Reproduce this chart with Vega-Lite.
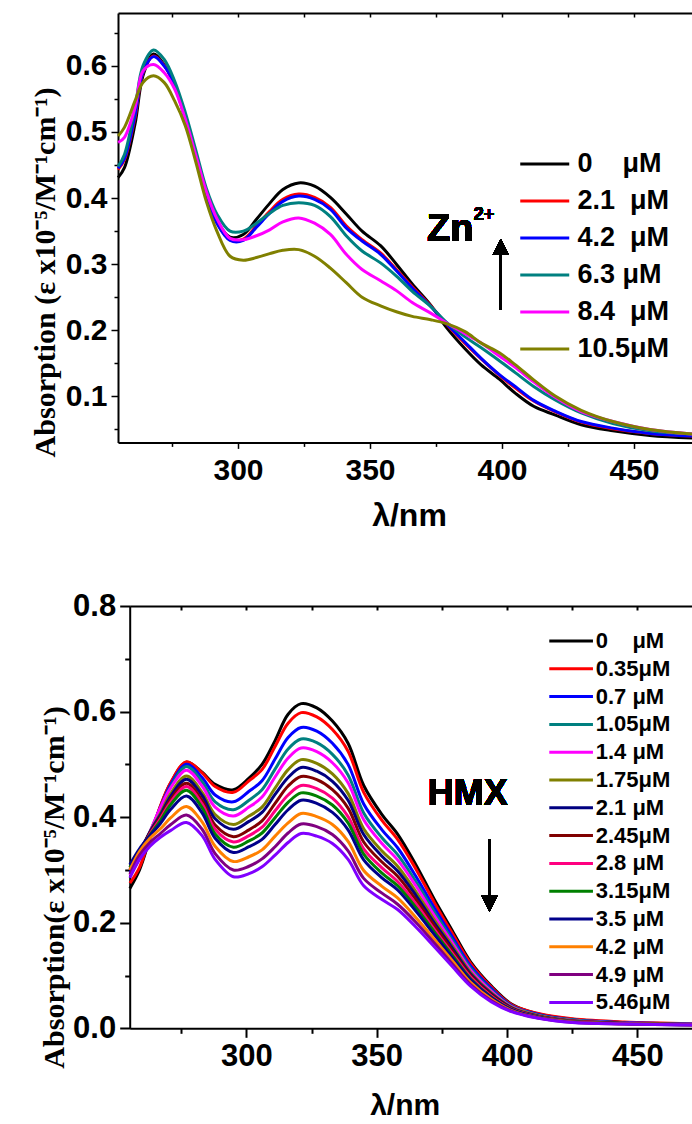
{
"$schema": "https://vega.github.io/schema/vega-lite/v6.json",
"background": "white",
"padding": {"left": 30, "top": 12, "right": 0, "bottom": 0},
"spacing": 58,
"config": {
  "view": {"stroke": null},
  "axis": {"grid": false, "domainColor": "black", "domainWidth": 2, "tickColor": "black", "tickWidth": 1.5, "labelColor": "black", "titleColor": "black", "labelFont": "Liberation Sans", "labelFontWeight": "bold", "titleFont": "Liberation Sans", "titleFontWeight": "bold", "labelFlush": false, "labelOverlap": false}
},
"datasets": {
"zn": [
{"k":"0","w":254.6,"a":0.431},{"k":"0","w":257,"a":0.446},{"k":"0","w":261,"a":0.512},{"k":"0","w":264,"a":0.585},{"k":"0","w":268,"a":0.618},{"k":"0","w":272,"a":0.602},{"k":"0","w":276,"a":0.57},{"k":"0","w":280,"a":0.52},{"k":"0","w":284,"a":0.462},{"k":"0","w":288,"a":0.405},{"k":"0","w":292,"a":0.366},{"k":"0","w":297,"a":0.341},{"k":"0","w":302,"a":0.345},{"k":"0","w":307,"a":0.368},{"k":"0","w":312,"a":0.392},{"k":"0","w":317,"a":0.413},{"k":"0","w":323,"a":0.423},{"k":"0","w":329,"a":0.418},{"k":"0","w":335,"a":0.401},{"k":"0","w":341,"a":0.376},{"k":"0","w":347,"a":0.35},{"k":"0","w":354,"a":0.328},{"k":"0","w":360,"a":0.3},{"k":"0","w":366,"a":0.27},{"k":"0","w":373,"a":0.238},{"k":"0","w":379,"a":0.204},{"k":"0","w":386,"a":0.172},{"k":"0","w":392,"a":0.148},{"k":"0","w":399,"a":0.126},{"k":"0","w":405,"a":0.105},{"k":"0","w":412,"a":0.085},{"k":"0","w":420,"a":0.072},{"k":"0","w":430,"a":0.057},{"k":"0","w":442,"a":0.048},{"k":"0","w":456,"a":0.041},{"k":"0","w":472.3,"a":0.037},
{"k":"2.1","w":254.6,"a":0.443},{"k":"2.1","w":257,"a":0.458},{"k":"2.1","w":261,"a":0.522},{"k":"2.1","w":264,"a":0.589},{"k":"2.1","w":268,"a":0.615},{"k":"2.1","w":272,"a":0.601},{"k":"2.1","w":276,"a":0.572},{"k":"2.1","w":280,"a":0.522},{"k":"2.1","w":284,"a":0.465},{"k":"2.1","w":288,"a":0.405},{"k":"2.1","w":292,"a":0.363},{"k":"2.1","w":297,"a":0.337},{"k":"2.1","w":302,"a":0.338},{"k":"2.1","w":307,"a":0.358},{"k":"2.1","w":312,"a":0.38},{"k":"2.1","w":317,"a":0.398},{"k":"2.1","w":323,"a":0.406},{"k":"2.1","w":329,"a":0.401},{"k":"2.1","w":335,"a":0.386},{"k":"2.1","w":341,"a":0.358},{"k":"2.1","w":347,"a":0.337},{"k":"2.1","w":354,"a":0.317},{"k":"2.1","w":360,"a":0.292},{"k":"2.1","w":366,"a":0.266},{"k":"2.1","w":373,"a":0.237},{"k":"2.1","w":379,"a":0.209},{"k":"2.1","w":386,"a":0.18},{"k":"2.1","w":392,"a":0.157},{"k":"2.1","w":399,"a":0.132},{"k":"2.1","w":405,"a":0.113},{"k":"2.1","w":412,"a":0.093},{"k":"2.1","w":420,"a":0.077},{"k":"2.1","w":430,"a":0.061},{"k":"2.1","w":442,"a":0.051},{"k":"2.1","w":456,"a":0.044},{"k":"2.1","w":472.3,"a":0.04},
{"k":"4.2","w":254.6,"a":0.445},{"k":"4.2","w":257,"a":0.46},{"k":"4.2","w":261,"a":0.525},{"k":"4.2","w":264,"a":0.59},{"k":"4.2","w":268,"a":0.614},{"k":"4.2","w":272,"a":0.6},{"k":"4.2","w":276,"a":0.572},{"k":"4.2","w":280,"a":0.522},{"k":"4.2","w":284,"a":0.465},{"k":"4.2","w":288,"a":0.405},{"k":"4.2","w":292,"a":0.362},{"k":"4.2","w":297,"a":0.336},{"k":"4.2","w":302,"a":0.336},{"k":"4.2","w":307,"a":0.356},{"k":"4.2","w":312,"a":0.377},{"k":"4.2","w":317,"a":0.395},{"k":"4.2","w":323,"a":0.403},{"k":"4.2","w":329,"a":0.398},{"k":"4.2","w":335,"a":0.383},{"k":"4.2","w":341,"a":0.355},{"k":"4.2","w":347,"a":0.335},{"k":"4.2","w":354,"a":0.315},{"k":"4.2","w":360,"a":0.29},{"k":"4.2","w":366,"a":0.264},{"k":"4.2","w":373,"a":0.236},{"k":"4.2","w":379,"a":0.21},{"k":"4.2","w":386,"a":0.182},{"k":"4.2","w":392,"a":0.158},{"k":"4.2","w":399,"a":0.133},{"k":"4.2","w":405,"a":0.115},{"k":"4.2","w":412,"a":0.094},{"k":"4.2","w":420,"a":0.078},{"k":"4.2","w":430,"a":0.062},{"k":"4.2","w":442,"a":0.052},{"k":"4.2","w":456,"a":0.044},{"k":"4.2","w":472.3,"a":0.04},
{"k":"6.3","w":254.6,"a":0.448},{"k":"6.3","w":257,"a":0.466},{"k":"6.3","w":261,"a":0.537},{"k":"6.3","w":264,"a":0.6},{"k":"6.3","w":268,"a":0.624},{"k":"6.3","w":272,"a":0.61},{"k":"6.3","w":276,"a":0.577},{"k":"6.3","w":280,"a":0.53},{"k":"6.3","w":284,"a":0.473},{"k":"6.3","w":288,"a":0.415},{"k":"6.3","w":292,"a":0.376},{"k":"6.3","w":297,"a":0.35},{"k":"6.3","w":302,"a":0.35},{"k":"6.3","w":307,"a":0.362},{"k":"6.3","w":312,"a":0.377},{"k":"6.3","w":317,"a":0.389},{"k":"6.3","w":323,"a":0.393},{"k":"6.3","w":329,"a":0.389},{"k":"6.3","w":335,"a":0.372},{"k":"6.3","w":341,"a":0.343},{"k":"6.3","w":347,"a":0.32},{"k":"6.3","w":354,"a":0.302},{"k":"6.3","w":360,"a":0.282},{"k":"6.3","w":366,"a":0.259},{"k":"6.3","w":373,"a":0.236},{"k":"6.3","w":379,"a":0.212},{"k":"6.3","w":386,"a":0.19},{"k":"6.3","w":392,"a":0.174},{"k":"6.3","w":399,"a":0.154},{"k":"6.3","w":405,"a":0.136},{"k":"6.3","w":412,"a":0.115},{"k":"6.3","w":420,"a":0.095},{"k":"6.3","w":430,"a":0.075},{"k":"6.3","w":442,"a":0.059},{"k":"6.3","w":456,"a":0.048},{"k":"6.3","w":472.3,"a":0.043},
{"k":"8.4","w":254.6,"a":0.484},{"k":"8.4","w":257,"a":0.492},{"k":"8.4","w":261,"a":0.537},{"k":"8.4","w":264,"a":0.592},{"k":"8.4","w":268,"a":0.602},{"k":"8.4","w":272,"a":0.59},{"k":"8.4","w":276,"a":0.565},{"k":"8.4","w":280,"a":0.52},{"k":"8.4","w":284,"a":0.465},{"k":"8.4","w":288,"a":0.41},{"k":"8.4","w":292,"a":0.369},{"k":"8.4","w":297,"a":0.339},{"k":"8.4","w":302,"a":0.337},{"k":"8.4","w":307,"a":0.343},{"k":"8.4","w":312,"a":0.352},{"k":"8.4","w":317,"a":0.364},{"k":"8.4","w":323,"a":0.37},{"k":"8.4","w":329,"a":0.362},{"k":"8.4","w":335,"a":0.345},{"k":"8.4","w":341,"a":0.315},{"k":"8.4","w":347,"a":0.292},{"k":"8.4","w":354,"a":0.275},{"k":"8.4","w":360,"a":0.26},{"k":"8.4","w":366,"a":0.242},{"k":"8.4","w":373,"a":0.226},{"k":"8.4","w":379,"a":0.211},{"k":"8.4","w":386,"a":0.195},{"k":"8.4","w":392,"a":0.181},{"k":"8.4","w":399,"a":0.161},{"k":"8.4","w":405,"a":0.144},{"k":"8.4","w":412,"a":0.122},{"k":"8.4","w":420,"a":0.099},{"k":"8.4","w":430,"a":0.077},{"k":"8.4","w":442,"a":0.062},{"k":"8.4","w":456,"a":0.05},{"k":"8.4","w":472.3,"a":0.043},
{"k":"10.5","w":254.6,"a":0.494},{"k":"10.5","w":257,"a":0.507},{"k":"10.5","w":261,"a":0.547},{"k":"10.5","w":264,"a":0.575},{"k":"10.5","w":268,"a":0.585},{"k":"10.5","w":272,"a":0.575},{"k":"10.5","w":276,"a":0.547},{"k":"10.5","w":280,"a":0.51},{"k":"10.5","w":284,"a":0.455},{"k":"10.5","w":288,"a":0.395},{"k":"10.5","w":292,"a":0.35},{"k":"10.5","w":297,"a":0.312},{"k":"10.5","w":302,"a":0.306},{"k":"10.5","w":307,"a":0.31},{"k":"10.5","w":312,"a":0.316},{"k":"10.5","w":317,"a":0.321},{"k":"10.5","w":323,"a":0.322},{"k":"10.5","w":329,"a":0.312},{"k":"10.5","w":335,"a":0.294},{"k":"10.5","w":341,"a":0.272},{"k":"10.5","w":347,"a":0.25},{"k":"10.5","w":354,"a":0.237},{"k":"10.5","w":360,"a":0.228},{"k":"10.5","w":366,"a":0.221},{"k":"10.5","w":373,"a":0.216},{"k":"10.5","w":379,"a":0.21},{"k":"10.5","w":386,"a":0.198},{"k":"10.5","w":392,"a":0.181},{"k":"10.5","w":399,"a":0.166},{"k":"10.5","w":405,"a":0.148},{"k":"10.5","w":412,"a":0.125},{"k":"10.5","w":420,"a":0.101},{"k":"10.5","w":430,"a":0.079},{"k":"10.5","w":442,"a":0.062},{"k":"10.5","w":456,"a":0.05},{"k":"10.5","w":472.3,"a":0.043}
],
"hmx": [
{"k":"0","w":255.3,"a":0.265},{"k":"0","w":259,"a":0.3},{"k":"0","w":263,"a":0.36},{"k":"0","w":267,"a":0.42},{"k":"0","w":271,"a":0.465},{"k":"0","w":277,"a":0.504},{"k":"0","w":283,"a":0.485},{"k":"0","w":288,"a":0.462},{"k":"0","w":295,"a":0.452},{"k":"0","w":301,"a":0.474},{"k":"0","w":306,"a":0.5},{"k":"0","w":311,"a":0.545},{"k":"0","w":316,"a":0.595},{"k":"0","w":321,"a":0.615},{"k":"0","w":327,"a":0.607},{"k":"0","w":333,"a":0.582},{"k":"0","w":339,"a":0.54},{"k":"0","w":345,"a":0.46},{"k":"0","w":352,"a":0.405},{"k":"0","w":358,"a":0.368},{"k":"0","w":365,"a":0.31},{"k":"0","w":372,"a":0.245},{"k":"0","w":379,"a":0.185},{"k":"0","w":386,"a":0.126},{"k":"0","w":394,"a":0.08},{"k":"0","w":402,"a":0.045},{"k":"0","w":412,"a":0.027},{"k":"0","w":425,"a":0.017},{"k":"0","w":445,"a":0.011},{"k":"0","w":471.3,"a":0.008},
{"k":"0.35","w":255.3,"a":0.275},{"k":"0.35","w":259,"a":0.305},{"k":"0.35","w":263,"a":0.362},{"k":"0.35","w":267,"a":0.421},{"k":"0.35","w":271,"a":0.466},{"k":"0.35","w":277,"a":0.505},{"k":"0.35","w":283,"a":0.484},{"k":"0.35","w":288,"a":0.458},{"k":"0.35","w":295,"a":0.447},{"k":"0.35","w":301,"a":0.469},{"k":"0.35","w":306,"a":0.49},{"k":"0.35","w":311,"a":0.534},{"k":"0.35","w":316,"a":0.578},{"k":"0.35","w":321,"a":0.598},{"k":"0.35","w":327,"a":0.59},{"k":"0.35","w":333,"a":0.566},{"k":"0.35","w":339,"a":0.525},{"k":"0.35","w":345,"a":0.447},{"k":"0.35","w":352,"a":0.394},{"k":"0.35","w":358,"a":0.358},{"k":"0.35","w":365,"a":0.302},{"k":"0.35","w":372,"a":0.239},{"k":"0.35","w":379,"a":0.18},{"k":"0.35","w":386,"a":0.123},{"k":"0.35","w":394,"a":0.078},{"k":"0.35","w":402,"a":0.044},{"k":"0.35","w":412,"a":0.028},{"k":"0.35","w":425,"a":0.018},{"k":"0.35","w":445,"a":0.012},{"k":"0.35","w":471.3,"a":0.009},
{"k":"0.7","w":255.3,"a":0.295},{"k":"0.7","w":259,"a":0.325},{"k":"0.7","w":263,"a":0.37},{"k":"0.7","w":267,"a":0.418},{"k":"0.7","w":271,"a":0.462},{"k":"0.7","w":277,"a":0.5},{"k":"0.7","w":283,"a":0.475},{"k":"0.7","w":288,"a":0.442},{"k":"0.7","w":295,"a":0.429},{"k":"0.7","w":301,"a":0.449},{"k":"0.7","w":306,"a":0.469},{"k":"0.7","w":311,"a":0.51},{"k":"0.7","w":316,"a":0.551},{"k":"0.7","w":321,"a":0.57},{"k":"0.7","w":327,"a":0.563},{"k":"0.7","w":333,"a":0.54},{"k":"0.7","w":339,"a":0.5},{"k":"0.7","w":345,"a":0.425},{"k":"0.7","w":352,"a":0.376},{"k":"0.7","w":358,"a":0.342},{"k":"0.7","w":365,"a":0.288},{"k":"0.7","w":372,"a":0.229},{"k":"0.7","w":379,"a":0.173},{"k":"0.7","w":386,"a":0.118},{"k":"0.7","w":394,"a":0.075},{"k":"0.7","w":402,"a":0.042},{"k":"0.7","w":412,"a":0.026},{"k":"0.7","w":425,"a":0.016},{"k":"0.7","w":445,"a":0.011},{"k":"0.7","w":471.3,"a":0.008},
{"k":"1.05","w":255.3,"a":0.3},{"k":"1.05","w":259,"a":0.33},{"k":"1.05","w":263,"a":0.372},{"k":"1.05","w":267,"a":0.416},{"k":"1.05","w":271,"a":0.458},{"k":"1.05","w":277,"a":0.496},{"k":"1.05","w":283,"a":0.467},{"k":"1.05","w":288,"a":0.429},{"k":"1.05","w":295,"a":0.414},{"k":"1.05","w":301,"a":0.432},{"k":"1.05","w":306,"a":0.452},{"k":"1.05","w":311,"a":0.491},{"k":"1.05","w":316,"a":0.529},{"k":"1.05","w":321,"a":0.548},{"k":"1.05","w":327,"a":0.541},{"k":"1.05","w":333,"a":0.519},{"k":"1.05","w":339,"a":0.48},{"k":"1.05","w":345,"a":0.408},{"k":"1.05","w":352,"a":0.361},{"k":"1.05","w":358,"a":0.329},{"k":"1.05","w":365,"a":0.278},{"k":"1.05","w":372,"a":0.221},{"k":"1.05","w":379,"a":0.167},{"k":"1.05","w":386,"a":0.114},{"k":"1.05","w":394,"a":0.072},{"k":"1.05","w":402,"a":0.041},{"k":"1.05","w":412,"a":0.025},{"k":"1.05","w":425,"a":0.016},{"k":"1.05","w":445,"a":0.01},{"k":"1.05","w":471.3,"a":0.008},
{"k":"1.4","w":255.3,"a":0.29},{"k":"1.4","w":259,"a":0.322},{"k":"1.4","w":263,"a":0.372},{"k":"1.4","w":267,"a":0.418},{"k":"1.4","w":271,"a":0.456},{"k":"1.4","w":277,"a":0.489},{"k":"1.4","w":283,"a":0.459},{"k":"1.4","w":288,"a":0.419},{"k":"1.4","w":295,"a":0.402},{"k":"1.4","w":301,"a":0.419},{"k":"1.4","w":306,"a":0.438},{"k":"1.4","w":311,"a":0.476},{"k":"1.4","w":316,"a":0.512},{"k":"1.4","w":321,"a":0.531},{"k":"1.4","w":327,"a":0.524},{"k":"1.4","w":333,"a":0.503},{"k":"1.4","w":339,"a":0.465},{"k":"1.4","w":345,"a":0.395},{"k":"1.4","w":352,"a":0.35},{"k":"1.4","w":358,"a":0.319},{"k":"1.4","w":365,"a":0.27},{"k":"1.4","w":372,"a":0.214},{"k":"1.4","w":379,"a":0.162},{"k":"1.4","w":386,"a":0.11},{"k":"1.4","w":394,"a":0.07},{"k":"1.4","w":402,"a":0.04},{"k":"1.4","w":412,"a":0.024},{"k":"1.4","w":425,"a":0.015},{"k":"1.4","w":445,"a":0.01},{"k":"1.4","w":471.3,"a":0.0075},
{"k":"1.75","w":255.3,"a":0.3},{"k":"1.75","w":259,"a":0.33},{"k":"1.75","w":263,"a":0.372},{"k":"1.75","w":267,"a":0.407},{"k":"1.75","w":271,"a":0.445},{"k":"1.75","w":277,"a":0.478},{"k":"1.75","w":283,"a":0.447},{"k":"1.75","w":288,"a":0.405},{"k":"1.75","w":295,"a":0.386},{"k":"1.75","w":301,"a":0.402},{"k":"1.75","w":306,"a":0.419},{"k":"1.75","w":311,"a":0.455},{"k":"1.75","w":316,"a":0.49},{"k":"1.75","w":321,"a":0.509},{"k":"1.75","w":327,"a":0.502},{"k":"1.75","w":333,"a":0.482},{"k":"1.75","w":339,"a":0.445},{"k":"1.75","w":345,"a":0.378},{"k":"1.75","w":352,"a":0.336},{"k":"1.75","w":358,"a":0.307},{"k":"1.75","w":365,"a":0.259},{"k":"1.75","w":372,"a":0.206},{"k":"1.75","w":379,"a":0.156},{"k":"1.75","w":386,"a":0.106},{"k":"1.75","w":394,"a":0.067},{"k":"1.75","w":402,"a":0.039},{"k":"1.75","w":412,"a":0.024},{"k":"1.75","w":425,"a":0.0145},{"k":"1.75","w":445,"a":0.0098},{"k":"1.75","w":471.3,"a":0.0073},
{"k":"2.1","w":255.3,"a":0.31},{"k":"2.1","w":259,"a":0.335},{"k":"2.1","w":263,"a":0.372},{"k":"2.1","w":267,"a":0.404},{"k":"2.1","w":271,"a":0.44},{"k":"2.1","w":277,"a":0.472},{"k":"2.1","w":283,"a":0.441},{"k":"2.1","w":288,"a":0.397},{"k":"2.1","w":295,"a":0.377},{"k":"2.1","w":301,"a":0.392},{"k":"2.1","w":306,"a":0.409},{"k":"2.1","w":311,"a":0.443},{"k":"2.1","w":316,"a":0.475},{"k":"2.1","w":321,"a":0.494},{"k":"2.1","w":327,"a":0.487},{"k":"2.1","w":333,"a":0.468},{"k":"2.1","w":339,"a":0.432},{"k":"2.1","w":345,"a":0.367},{"k":"2.1","w":352,"a":0.326},{"k":"2.1","w":358,"a":0.298},{"k":"2.1","w":365,"a":0.252},{"k":"2.1","w":372,"a":0.2},{"k":"2.1","w":379,"a":0.152},{"k":"2.1","w":386,"a":0.103},{"k":"2.1","w":394,"a":0.065},{"k":"2.1","w":402,"a":0.038},{"k":"2.1","w":412,"a":0.023},{"k":"2.1","w":425,"a":0.014},{"k":"2.1","w":445,"a":0.0096},{"k":"2.1","w":471.3,"a":0.0072},
{"k":"2.45","w":255.3,"a":0.305},{"k":"2.45","w":259,"a":0.335},{"k":"2.45","w":263,"a":0.37},{"k":"2.45","w":267,"a":0.4},{"k":"2.45","w":271,"a":0.434},{"k":"2.45","w":277,"a":0.464},{"k":"2.45","w":283,"a":0.432},{"k":"2.45","w":288,"a":0.385},{"k":"2.45","w":295,"a":0.363},{"k":"2.45","w":301,"a":0.376},{"k":"2.45","w":306,"a":0.393},{"k":"2.45","w":311,"a":0.426},{"k":"2.45","w":316,"a":0.459},{"k":"2.45","w":321,"a":0.477},{"k":"2.45","w":327,"a":0.471},{"k":"2.45","w":333,"a":0.452},{"k":"2.45","w":339,"a":0.417},{"k":"2.45","w":345,"a":0.353},{"k":"2.45","w":352,"a":0.315},{"k":"2.45","w":358,"a":0.288},{"k":"2.45","w":365,"a":0.244},{"k":"2.45","w":372,"a":0.195},{"k":"2.45","w":379,"a":0.147},{"k":"2.45","w":386,"a":0.1},{"k":"2.45","w":394,"a":0.063},{"k":"2.45","w":402,"a":0.037},{"k":"2.45","w":412,"a":0.0225},{"k":"2.45","w":425,"a":0.0137},{"k":"2.45","w":445,"a":0.0094},{"k":"2.45","w":471.3,"a":0.0071},
{"k":"2.8","w":255.3,"a":0.3},{"k":"2.8","w":259,"a":0.33},{"k":"2.8","w":263,"a":0.368},{"k":"2.8","w":267,"a":0.397},{"k":"2.8","w":271,"a":0.429},{"k":"2.8","w":277,"a":0.458},{"k":"2.8","w":283,"a":0.425},{"k":"2.8","w":288,"a":0.377},{"k":"2.8","w":295,"a":0.353},{"k":"2.8","w":301,"a":0.365},{"k":"2.8","w":306,"a":0.381},{"k":"2.8","w":311,"a":0.412},{"k":"2.8","w":316,"a":0.442},{"k":"2.8","w":321,"a":0.46},{"k":"2.8","w":327,"a":0.454},{"k":"2.8","w":333,"a":0.436},{"k":"2.8","w":339,"a":0.401},{"k":"2.8","w":345,"a":0.34},{"k":"2.8","w":352,"a":0.304},{"k":"2.8","w":358,"a":0.278},{"k":"2.8","w":365,"a":0.236},{"k":"2.8","w":372,"a":0.188},{"k":"2.8","w":379,"a":0.142},{"k":"2.8","w":386,"a":0.097},{"k":"2.8","w":394,"a":0.061},{"k":"2.8","w":402,"a":0.036},{"k":"2.8","w":412,"a":0.022},{"k":"2.8","w":425,"a":0.0133},{"k":"2.8","w":445,"a":0.0092},{"k":"2.8","w":471.3,"a":0.007},
{"k":"3.15","w":255.3,"a":0.305},{"k":"3.15","w":259,"a":0.335},{"k":"3.15","w":263,"a":0.366},{"k":"3.15","w":267,"a":0.393},{"k":"3.15","w":271,"a":0.424},{"k":"3.15","w":277,"a":0.451},{"k":"3.15","w":283,"a":0.418},{"k":"3.15","w":288,"a":0.368},{"k":"3.15","w":295,"a":0.343},{"k":"3.15","w":301,"a":0.355},{"k":"3.15","w":306,"a":0.37},{"k":"3.15","w":311,"a":0.399},{"k":"3.15","w":316,"a":0.428},{"k":"3.15","w":321,"a":0.446},{"k":"3.15","w":327,"a":0.44},{"k":"3.15","w":333,"a":0.423},{"k":"3.15","w":339,"a":0.389},{"k":"3.15","w":345,"a":0.33},{"k":"3.15","w":352,"a":0.294},{"k":"3.15","w":358,"a":0.27},{"k":"3.15","w":365,"a":0.229},{"k":"3.15","w":372,"a":0.183},{"k":"3.15","w":379,"a":0.138},{"k":"3.15","w":386,"a":0.094},{"k":"3.15","w":394,"a":0.059},{"k":"3.15","w":402,"a":0.035},{"k":"3.15","w":412,"a":0.0215},{"k":"3.15","w":425,"a":0.013},{"k":"3.15","w":445,"a":0.009},{"k":"3.15","w":471.3,"a":0.0068},
{"k":"3.5","w":255.3,"a":0.31},{"k":"3.5","w":259,"a":0.34},{"k":"3.5","w":263,"a":0.365},{"k":"3.5","w":267,"a":0.388},{"k":"3.5","w":271,"a":0.415},{"k":"3.5","w":277,"a":0.44},{"k":"3.5","w":283,"a":0.408},{"k":"3.5","w":288,"a":0.36},{"k":"3.5","w":295,"a":0.333},{"k":"3.5","w":301,"a":0.344},{"k":"3.5","w":306,"a":0.358},{"k":"3.5","w":311,"a":0.386},{"k":"3.5","w":316,"a":0.414},{"k":"3.5","w":321,"a":0.432},{"k":"3.5","w":327,"a":0.426},{"k":"3.5","w":333,"a":0.409},{"k":"3.5","w":339,"a":0.376},{"k":"3.5","w":345,"a":0.319},{"k":"3.5","w":352,"a":0.285},{"k":"3.5","w":358,"a":0.262},{"k":"3.5","w":365,"a":0.222},{"k":"3.5","w":372,"a":0.178},{"k":"3.5","w":379,"a":0.134},{"k":"3.5","w":386,"a":0.092},{"k":"3.5","w":394,"a":0.058},{"k":"3.5","w":402,"a":0.035},{"k":"3.5","w":412,"a":0.021},{"k":"3.5","w":425,"a":0.0126},{"k":"3.5","w":445,"a":0.0088},{"k":"3.5","w":471.3,"a":0.0067},
{"k":"4.2","w":255.3,"a":0.3},{"k":"4.2","w":259,"a":0.335},{"k":"4.2","w":263,"a":0.36},{"k":"4.2","w":267,"a":0.378},{"k":"4.2","w":271,"a":0.399},{"k":"4.2","w":277,"a":0.42},{"k":"4.2","w":283,"a":0.391},{"k":"4.2","w":288,"a":0.345},{"k":"4.2","w":295,"a":0.316},{"k":"4.2","w":301,"a":0.325},{"k":"4.2","w":306,"a":0.338},{"k":"4.2","w":311,"a":0.364},{"k":"4.2","w":316,"a":0.389},{"k":"4.2","w":321,"a":0.407},{"k":"4.2","w":327,"a":0.401},{"k":"4.2","w":333,"a":0.386},{"k":"4.2","w":339,"a":0.354},{"k":"4.2","w":345,"a":0.299},{"k":"4.2","w":352,"a":0.269},{"k":"4.2","w":358,"a":0.247},{"k":"4.2","w":365,"a":0.21},{"k":"4.2","w":372,"a":0.169},{"k":"4.2","w":379,"a":0.128},{"k":"4.2","w":386,"a":0.087},{"k":"4.2","w":394,"a":0.055},{"k":"4.2","w":402,"a":0.033},{"k":"4.2","w":412,"a":0.02},{"k":"4.2","w":425,"a":0.012},{"k":"4.2","w":445,"a":0.0085},{"k":"4.2","w":471.3,"a":0.0065},
{"k":"4.9","w":255.3,"a":0.292},{"k":"4.9","w":259,"a":0.328},{"k":"4.9","w":263,"a":0.352},{"k":"4.9","w":267,"a":0.369},{"k":"4.9","w":271,"a":0.386},{"k":"4.9","w":277,"a":0.404},{"k":"4.9","w":283,"a":0.377},{"k":"4.9","w":288,"a":0.331},{"k":"4.9","w":295,"a":0.3},{"k":"4.9","w":301,"a":0.307},{"k":"4.9","w":306,"a":0.321},{"k":"4.9","w":311,"a":0.344},{"k":"4.9","w":316,"a":0.37},{"k":"4.9","w":321,"a":0.387},{"k":"4.9","w":327,"a":0.382},{"k":"4.9","w":333,"a":0.367},{"k":"4.9","w":339,"a":0.336},{"k":"4.9","w":345,"a":0.284},{"k":"4.9","w":352,"a":0.256},{"k":"4.9","w":358,"a":0.235},{"k":"4.9","w":365,"a":0.201},{"k":"4.9","w":372,"a":0.162},{"k":"4.9","w":379,"a":0.122},{"k":"4.9","w":386,"a":0.083},{"k":"4.9","w":394,"a":0.052},{"k":"4.9","w":402,"a":0.032},{"k":"4.9","w":412,"a":0.0196},{"k":"4.9","w":425,"a":0.0115},{"k":"4.9","w":445,"a":0.0082},{"k":"4.9","w":471.3,"a":0.0062},
{"k":"5.46","w":255.3,"a":0.285},{"k":"5.46","w":259,"a":0.32},{"k":"5.46","w":263,"a":0.345},{"k":"5.46","w":267,"a":0.362},{"k":"5.46","w":271,"a":0.375},{"k":"5.46","w":277,"a":0.39},{"k":"5.46","w":283,"a":0.365},{"k":"5.46","w":288,"a":0.32},{"k":"5.46","w":295,"a":0.287},{"k":"5.46","w":301,"a":0.293},{"k":"5.46","w":306,"a":0.306},{"k":"5.46","w":311,"a":0.328},{"k":"5.46","w":316,"a":0.352},{"k":"5.46","w":321,"a":0.369},{"k":"5.46","w":327,"a":0.364},{"k":"5.46","w":333,"a":0.35},{"k":"5.46","w":339,"a":0.32},{"k":"5.46","w":345,"a":0.27},{"k":"5.46","w":352,"a":0.244},{"k":"5.46","w":358,"a":0.225},{"k":"5.46","w":365,"a":0.192},{"k":"5.46","w":372,"a":0.155},{"k":"5.46","w":379,"a":0.117},{"k":"5.46","w":386,"a":0.08},{"k":"5.46","w":394,"a":0.05},{"k":"5.46","w":402,"a":0.031},{"k":"5.46","w":412,"a":0.019},{"k":"5.46","w":425,"a":0.011},{"k":"5.46","w":445,"a":0.008},{"k":"5.46","w":471.3,"a":0.006}
]
},
"vconcat": [
{
  "width": 575, "height": 429.4,
  "data": {"name": "zn"},
  "layer": [
    {
      "mark": {"type": "line", "interpolate": "catmull-rom", "strokeWidth": 3},
      "encoding": {
        "x": {"field": "w", "type": "quantitative", "scale": {"domain": [254.55, 472.35], "nice": false, "zero": false},
              "axis": {"orient": "bottom", "values": [300, 350, 400, 450], "tickSize": 6, "labelFontSize": 30, "labelPadding": 7, "title": "λ/nm", "titleFontSize": 32, "titleX": 291, "titleY": 83, "titleBaseline": "alphabetic", "titleAlign": "center"}},
        "y": {"field": "a", "type": "quantitative", "scale": {"domain": [0.0304, 0.68], "nice": false, "zero": false},
              "axis": {"orient": "left", "values": [0.1, 0.2, 0.3, 0.4, 0.5, 0.6], "format": ".1f", "tickSize": 7, "labelFontSize": 30, "labelPadding": 4, "title": "Absorption (ε  x10⁻⁵/M⁻¹cm⁻¹)", "titleFont": "Liberation Serif", "titleFontSize": 30, "titleAngle": -90, "titleX": -63.8, "titleY": 259, "titleBaseline": "alphabetic", "titleAlign": "center"}},
        "color": {"field": "k", "type": "nominal",
                  "scale": {"domain": ["0", "2.1", "4.2", "6.3", "8.4", "10.5"], "range": ["#000000", "#ff0000", "#0000ff", "#008080", "#ff00ff", "#808000"]},
                  "legend": {"orient": "none", "legendX": 400.5, "legendY": 137, "title": null, "symbolType": "M-1,0H3", "symbolSize": 600, "symbolStrokeWidth": 3, "symbolFillColor": "transparent", "labelFont": "Liberation Sans", "labelFontWeight": "bold", "labelFontSize": 27, "labelColor": "black", "labelOffset": 31, "rowPadding": 10, "padding": 0, "labelLimit": 0,
                             "labelExpr": "datum.label == '0' ? '0\u00a0\u00a0\u00a0\u00a0\u03bcM' : datum.label == '6.3' ? '6.3\u00a0\u03bcM' : datum.label == '10.5' ? '10.5\u03bcM' : datum.label + '\u00a0\u00a0\u03bcM'"}}
      }
    },
    {
      "mark": {"type": "text", "text": "Zn", "font": "Liberation Sans", "fontWeight": "bold", "fontSize": 38, "align": "center", "baseline": "alphabetic", "color": "black"},
      "encoding": {
        "x": {"datum": 380.4, "type": "quantitative", "scale": {"domain": [254.55, 472.35], "nice": false, "zero": false},
              "axis": {"orient": "bottom", "values": [275, 325, 375, 425], "tickSize": 4, "labels": false, "domain": false, "title": null}},
        "y": {"datum": 0.335, "type": "quantitative", "scale": {"domain": [0.0304, 0.68], "nice": false, "zero": false},
              "axis": {"orient": "left", "values": [0.05, 0.15, 0.25, 0.35, 0.45, 0.55, 0.65], "tickSize": 4, "labels": false, "domain": false, "title": null}}
      }
    },
    {
      "mark": {"type": "text", "text": "2+", "font": "Liberation Sans", "fontWeight": "bold", "fontSize": 18, "align": "left", "baseline": "alphabetic", "color": "black"},
      "encoding": {
        "x": {"datum": 389.3, "type": "quantitative", "scale": {"domain": [254.55, 472.35], "nice": false, "zero": false},
              "axis": {"orient": "top", "values": [275, 300, 325, 350, 375, 400, 425, 450], "tickSize": -4, "labels": false, "domain": true, "title": null}},
        "y": {"datum": 0.367, "type": "quantitative", "scale": {"domain": [0.0304, 0.68], "nice": false, "zero": false}, "axis": null}
      }
    },
    {
      "mark": {"type": "rule", "strokeWidth": 2, "color": "black"},
      "encoding": {
        "x": {"datum": 399.5, "type": "quantitative", "scale": {"domain": [254.55, 472.35], "nice": false, "zero": false}, "axis": null},
        "y": {"datum": 0.232, "type": "quantitative", "scale": {"domain": [0.0304, 0.68], "nice": false, "zero": false}, "axis": null},
        "y2": {"datum": 0.326}
      }
    },
    {
      "mark": {"type": "point", "shape": "M0,-1L1,1L-1,1Z", "size": 256, "filled": true, "color": "black", "opacity": 1},
      "encoding": {
        "x": {"datum": 399.5, "type": "quantitative", "scale": {"domain": [254.55, 472.35], "nice": false, "zero": false}, "axis": null},
        "y": {"datum": 0.326, "type": "quantitative", "scale": {"domain": [0.0304, 0.68], "nice": false, "zero": false}, "axis": null}
      }
    }
  ],
  "resolve": {"axis": {"x": "independent", "y": "independent"}}
},
{
  "width": 575, "height": 422.3,
  "data": {"name": "hmx"},
  "layer": [
    {
      "mark": {"type": "line", "interpolate": "catmull-rom", "strokeWidth": 3},
      "encoding": {
        "x": {"field": "w", "type": "quantitative", "scale": {"domain": [255.23, 471.33], "range": [11.7, 575], "nice": false, "zero": false},
              "axis": {"orient": "bottom", "values": [300, 350, 400, 450], "tickSize": 9, "tickWidth": 2, "labelFontSize": 31, "labelPadding": 4, "title": "λ/nm", "titleFontSize": 30, "titleX": 286.7, "titleY": 86, "titleBaseline": "alphabetic", "titleAlign": "center"}},
        "y": {"field": "a", "type": "quantitative", "scale": {"domain": [0, 0.8], "nice": false, "zero": false},
              "axis": {"orient": "left", "offset": -11.7, "values": [0, 0.2, 0.4, 0.6, 0.8], "format": ".1f", "tickSize": 10, "tickWidth": 2, "labelFontSize": 31, "labelPadding": 4, "title": "Absorption(ε  x10⁻⁵/M⁻¹cm⁻¹)", "titleFont": "Liberation Serif", "titleFontSize": 30, "titleAngle": -90, "titleX": -66.5, "titleY": 281, "titleBaseline": "alphabetic", "titleAlign": "center"}},
        "color": {"field": "k", "type": "nominal",
                  "scale": {"domain": ["0", "0.35", "0.7", "1.05", "1.4", "1.75", "2.1", "2.45", "2.8", "3.15", "3.5", "4.2", "4.9", "5.46"], "range": ["#000000", "#ff0000", "#0000ff", "#008080", "#ff00ff", "#808000", "#000080", "#800000", "#ff0080", "#008000", "#00008b", "#ff8000", "#800080", "#8000ff"]},
                  "legend": {"orient": "none", "legendX": 429.7, "legendY": 22.5, "title": null, "symbolType": "M-1,0H3", "symbolSize": 477, "symbolStrokeWidth": 3, "symbolFillColor": "transparent", "labelFont": "Liberation Sans", "labelFontWeight": "bold", "labelFontSize": 22, "labelColor": "black", "labelOffset": 23, "rowPadding": 3.8, "padding": 0, "labelLimit": 0,
                             "labelExpr": "datum.label == '0' ? '0\u00a0\u00a0\u00a0\u00a0\u03bcM' : length(datum.label) == 3 ? datum.label + '\u00a0\u03bcM' : datum.label + '\u03bcM'"}}
      }
    },
    {
      "mark": {"type": "text", "text": "HMX", "font": "Liberation Sans", "fontWeight": "bold", "fontSize": 36, "align": "center", "baseline": "alphabetic", "color": "black"},
      "encoding": {
        "x": {"datum": 384.9, "type": "quantitative", "scale": {"domain": [255.23, 471.33], "range": [11.7, 575], "nice": false, "zero": false},
              "axis": {"orient": "bottom", "values": [275, 325, 375, 425], "tickSize": 5, "tickWidth": 2, "labels": false, "domain": false, "title": null}},
        "y": {"datum": 0.423, "type": "quantitative", "scale": {"domain": [0, 0.8], "nice": false, "zero": false},
              "axis": {"orient": "left", "offset": -11.7, "values": [0.1, 0.3, 0.5, 0.7], "tickSize": 5, "tickWidth": 2, "labels": false, "domain": false, "title": null}}
      }
    },
    {
      "mark": {"type": "rule", "strokeWidth": 2, "color": "black"},
      "encoding": {
        "x": {"datum": 393.3, "type": "quantitative", "scale": {"domain": [255.23, 471.33], "range": [11.7, 575], "nice": false, "zero": false},
              "axis": {"orient": "top", "values": [275, 300, 325, 350, 375, 400, 425, 450], "tickSize": -4, "tickWidth": 2, "labels": false, "domain": true, "title": null}},
        "y": {"datum": 0.357, "type": "quantitative", "scale": {"domain": [0, 0.8], "nice": false, "zero": false}, "axis": null},
        "y2": {"datum": 0.2364}
      }
    },
    {
      "mark": {"type": "point", "shape": "M0,1L1,-1L-1,-1Z", "size": 256, "filled": true, "color": "black", "opacity": 1},
      "encoding": {
        "x": {"datum": 393.3, "type": "quantitative", "scale": {"domain": [255.23, 471.33], "range": [11.7, 575], "nice": false, "zero": false}, "axis": null},
        "y": {"datum": 0.2364, "type": "quantitative", "scale": {"domain": [0, 0.8], "nice": false, "zero": false}, "axis": null}
      }
    }
  ],
  "resolve": {"axis": {"x": "independent", "y": "independent"}}
}
],
"resolve": {"scale": {"color": "independent"}}
}
